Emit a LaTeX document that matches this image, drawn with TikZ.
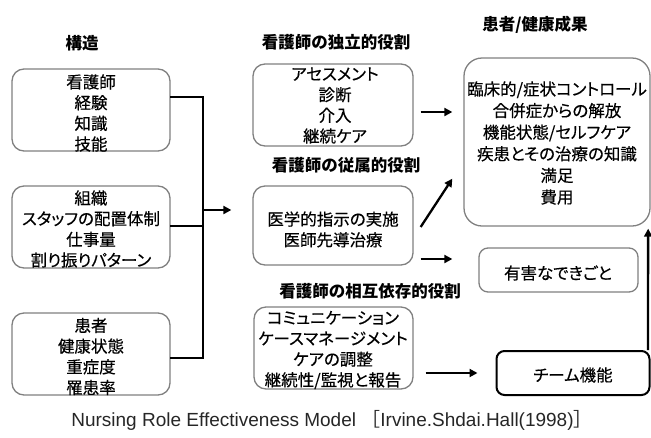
\documentclass[tikz,border=0pt]{standalone}
\usepackage{fontspec}
\setmainfont{Noto Sans CJK JP}
\newfontfamily\boxfont[FakeBold=0.4,RawFeature=+palt]{Noto Sans CJK JP}
\newfontfamily\latinfont{Liberation Sans}
\usetikzlibrary{arrows.meta,calc}
\tikzset{
  box/.style={draw=black!50, line width=1.3pt, rounded corners=12pt, minimum width=158pt, minimum height=82pt, inner sep=0pt},
  txt/.style={align=center, inner sep=0pt, font=\boxfont\fontsize{16.5}{20.7}\selectfont},
  ttl/.style={inner sep=0pt, font=\fontsize{16.5}{19}\selectfont\bfseries},
  conn/.style={line width=2.3pt, line cap=rect},
  arr/.style={line width=2.3pt, -{Triangle[length=8pt,width=8pt]}},
}
\begin{document}
\begin{tikzpicture}[x=1pt,y=-1pt]
\useasboundingbox (0,0) rectangle (651,437);
% titles
\node[ttl] (t1) at (82,43) {構造};
\node[ttl] (t2) at (336,42) {看護師の独立的役割};
\node[ttl] (t3) at (346,165) {看護師の従属的役割};
\node[ttl] (t4) at (370,291) {看護師の相互依存的役割};
\node[ttl] (t5) at (535,25) {患者/健康成果};
% left boxes
\node[box] (s1) at (91,110) {};
\node[txt] (s1t) at (91,113) {看護師\\経験\\知識\\技能};
\node[box] (s2) at (91,227) {};
\node[txt] (s2t) at (91,229) {組織\\スタッフの配置体制\\仕事量\\割り振りパターン};
\node[box] (s3) at (91,354) {};
\node[txt] (s3t) at (91,356.5) {患者\\健康状態\\重症度\\罹患率};
% middle boxes
\node[box, minimum width=160pt] (bA) at (333,105) {};
\node[txt] (bAt) at (335,105.5) {アセスメント\\診断\\介入\\継続ケア};
\node[box, minimum width=160pt, minimum height=79pt] (bB) at (333,225.5) {};
\node[txt] (bBt) at (333,229.5) {医学的指示の実施\\医師先導治療};
\node[box, minimum width=159pt] (bC) at (333.5,348) {};
\node[txt] (bCt) at (333,350) {コミュニケーション\\ケースマネージメント\\ケアの調整\\継続性/監視と報告};
% right boxes
\node[box, minimum width=186pt, minimum height=168pt, rounded corners=18pt] (out) at (557,142) {};
\node[txt, font=\boxfont\fontsize{16.5}{21.6}\selectfont] (outt) at (557,143) {臨床的/症状コントロール\\合併症からの解放\\機能状態/セルフケア\\疾患とその治療の知識\\満足\\費用};
\node[box, minimum width=159pt, minimum height=44pt, rounded corners=9pt] (harm) at (558.5,270) {};
\node[txt] (harmt) at (558,273) {有害なできごと};
\node[box, draw=black, line width=2pt, minimum width=153pt, minimum height=44pt, rounded corners=8pt] (team) at (573,373) {};
\node[txt] (teamt) at (573,375) {チーム機能};
% left connectors
\draw[conn] ($(s1.east)+(0,-13)$) -- ++(32,0) |- ($(s3.east)+(0,4)$);
\draw[conn] ($(s2.east)+(0,-1)$) -- ++(32,0);
\draw[arr] ($(s2.east)+(32,-17)$) -- ($(bB.west)+(-21,-15.5)$);
% middle arrows
\draw[arr] ($(bA.east)+(7,7)$) -- ($(out.west)+(-11,-30)$);
\draw[arr] ($(bB.east)+(7,1.5)$) -- ($(out.south west)+(-11,-48)$);
\draw[arr] ($(bB.east)+(7,33.5)$) -- ($(harm.west)+(-26,-11)$);
\draw[arr] ($(bC.east)+(12,25)$) -- ($(team.west)+(-18,0)$);
\draw[arr] ($(team.north east)+(-2.5,0)$) -- ($(out.south east)+(-2.5,2)$);
% caption
\node[inner sep=0pt, text=black!85, font=\fontsize{19}{22}\selectfont] (cap) at (332,420) {\latinfont Nursing Role Effectiveness Model \normalfont［\latinfont Irvine.Shdai.Hall(1998)\normalfont］};
\end{tikzpicture}
\end{document}
